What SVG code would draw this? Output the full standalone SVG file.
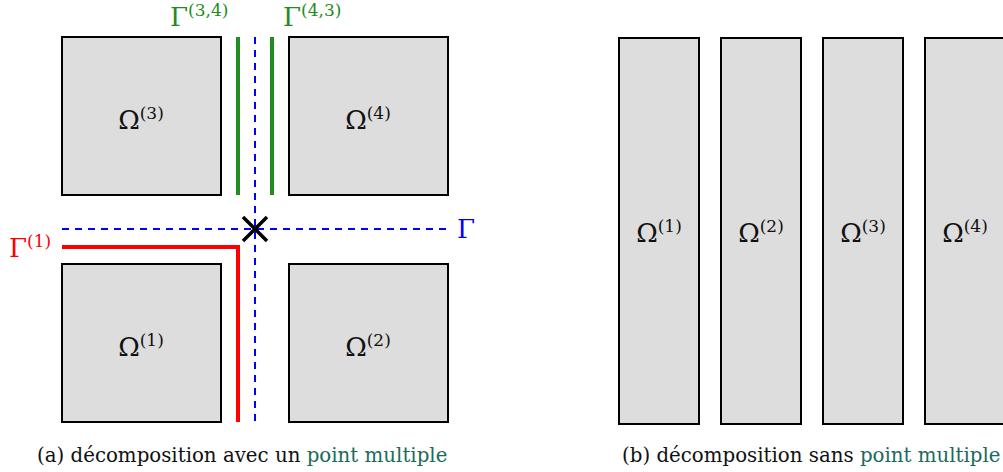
<svg xmlns="http://www.w3.org/2000/svg" width="1003" height="472" viewBox="0 0 1003 472">
<style>
.box{fill:#dddddd;stroke:#000;stroke-width:2}
.lbl{font-family:'DejaVu Serif','Liberation Serif',serif;font-size:26px;fill:#111}
.sup{font-size:17px}
.cap{font-family:'DejaVu Serif','Liberation Serif',serif;font-size:19.8px;fill:#111}
.teal{fill:#1b6b5c}
.dash{stroke:#0000ff;stroke-width:2;stroke-dasharray:7,6;fill:none}
.green{stroke:#228b22;stroke-width:4;fill:none}
.red{stroke:#ff0000;stroke-width:4;fill:none}
</style>
<rect width="1003" height="472" fill="#fff"/>
<g id="omega3"><rect class="box" x="62" y="37" width="159" height="158"/><text class="lbl" x="141" y="129" text-anchor="middle">Ω<tspan class="sup" dy="-10">(3)</tspan></text></g>
<g id="omega4"><rect class="box" x="289" y="37" width="159" height="158"/><text class="lbl" x="368" y="129" text-anchor="middle">Ω<tspan class="sup" dy="-10">(4)</tspan></text></g>
<g id="omega1"><rect class="box" x="62" y="264" width="159" height="158"/><text class="lbl" x="141" y="356" text-anchor="middle">Ω<tspan class="sup" dy="-10">(1)</tspan></text></g>
<g id="omega2"><rect class="box" x="289" y="264" width="159" height="158"/><text class="lbl" x="368" y="356" text-anchor="middle">Ω<tspan class="sup" dy="-10">(2)</tspan></text></g>
<g id="connectors">
<line class="dash" x1="255" y1="37" x2="255" y2="423"/>
<line class="dash" x1="62" y1="229" x2="448" y2="229"/>
<line class="green" x1="238" y1="37" x2="238" y2="195"/>
<line class="green" x1="272" y1="37" x2="272" y2="195"/>
<polyline class="red" points="62,247 238,247 238,422"/>
<path d="M243,217 L267,241 M267,217 L243,241" stroke="#000" stroke-width="3.5" fill="none"/>
</g>
<g id="labels">
<text class="lbl" x="170" y="26" style="fill:#228b22">Γ<tspan class="sup" dy="-10">(3,4)</tspan></text>
<text class="lbl" x="283" y="26" style="fill:#228b22">Γ<tspan class="sup" dy="-10">(4,3)</tspan></text>
<text class="lbl" x="457" y="238" style="fill:#0000ff">Γ</text>
<text class="lbl" x="9" y="257" style="fill:#ff0000">Γ<tspan class="sup" dy="-10">(1)</tspan></text>
</g>
<g id="r1"><rect class="box" x="619" y="38" width="80" height="386"/><text class="lbl" x="659" y="242" text-anchor="middle">Ω<tspan class="sup" dy="-10">(1)</tspan></text></g>
<g id="r2"><rect class="box" x="721" y="38" width="80" height="386"/><text class="lbl" x="761" y="242" text-anchor="middle">Ω<tspan class="sup" dy="-10">(2)</tspan></text></g>
<g id="r3"><rect class="box" x="823" y="38" width="80" height="386"/><text class="lbl" x="863" y="242" text-anchor="middle">Ω<tspan class="sup" dy="-10">(3)</tspan></text></g>
<g id="r4"><rect class="box" x="925" y="38" width="80" height="386"/><text class="lbl" x="965" y="242" text-anchor="middle">Ω<tspan class="sup" dy="-10">(4)</tspan></text></g>
<text class="cap" x="37" y="462">(a) décomposition avec un <tspan class="teal">point multiple</tspan></text>
<text class="cap" x="622" y="462">(b) décomposition sans <tspan class="teal">point multiple</tspan></text>
</svg>
